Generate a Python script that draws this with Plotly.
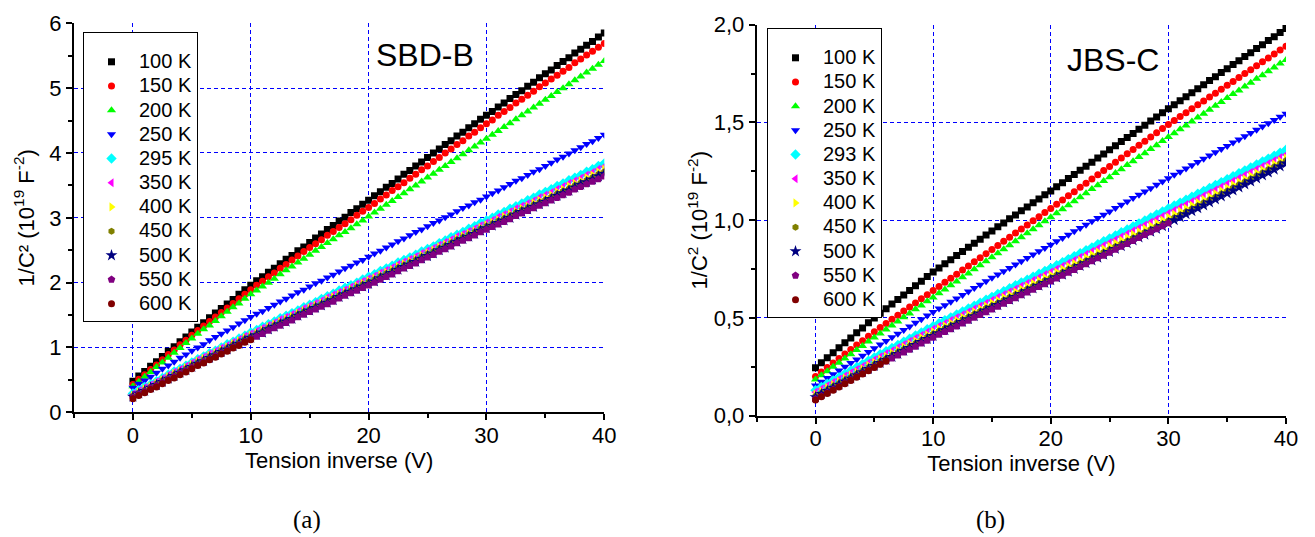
import plotly.graph_objects as go

# ---------------- data ----------------
V = [0, 0.5, 1, 1.5, 2, 2.5, 3, 3.5, 4, 4.5, 5, 5.5, 6, 6.5, 7, 7.5, 8, 8.5, 9, 9.5,
     10, 10.5, 11, 11.5, 12, 12.5, 13, 13.5, 14, 14.5, 15, 15.5, 16, 16.5, 17, 17.5, 18, 18.5, 19, 19.5,
     20, 20.5, 21, 21.5, 22, 22.5, 23, 23.5, 24, 24.5, 25, 25.5, 26, 26.5, 27, 27.5, 28, 28.5, 29, 29.5,
     30, 30.5, 31, 31.5, 32, 32.5, 33, 33.5, 34, 34.5, 35, 35.5, 36, 36.5, 37, 37.5, 38, 38.5, 39, 39.5, 40]

labels_a = ["100 K", "150 K", "200 K", "250 K", "295 K", "350 K", "400 K", "450 K", "500 K", "550 K", "600 K"]
labels_b = ["100 K", "150 K", "200 K", "250 K", "293 K", "350 K", "400 K", "450 K", "500 K", "550 K", "600 K"]

# (a) SBD-B
a_100 = [0.48, 0.56, 0.63, 0.71, 0.78, 0.86, 0.94, 1.01, 1.09, 1.16,
         1.24, 1.31, 1.38, 1.46, 1.53, 1.60, 1.67, 1.74, 1.82, 1.89,
         1.96, 2.03, 2.09, 2.16, 2.22, 2.29, 2.36, 2.42, 2.49, 2.55,
         2.62, 2.69, 2.75, 2.82, 2.88, 2.95, 3.01, 3.08, 3.14, 3.21,
         3.27, 3.34, 3.40, 3.47, 3.53, 3.60, 3.67, 3.73, 3.80, 3.86,
         3.93, 4.00, 4.06, 4.13, 4.19, 4.26, 4.32, 4.39, 4.45, 4.52,
         4.58, 4.64, 4.71, 4.77, 4.84, 4.90, 4.96, 5.03, 5.09, 5.16,
         5.22, 5.28, 5.35, 5.41, 5.47, 5.54, 5.60, 5.66, 5.72, 5.79, 5.85]
a_150 = [0.43, 0.51, 0.58, 0.66, 0.73, 0.81, 0.89, 0.96, 1.04, 1.11,
         1.19, 1.26, 1.33, 1.40, 1.47, 1.54, 1.61, 1.68, 1.75, 1.82,
         1.89, 1.96, 2.02, 2.09, 2.15, 2.22, 2.28, 2.35, 2.41, 2.48,
         2.54, 2.60, 2.66, 2.73, 2.79, 2.85, 2.91, 2.97, 3.04, 3.10,
         3.16, 3.22, 3.29, 3.35, 3.42, 3.48, 3.54, 3.61, 3.67, 3.74,
         3.80, 3.87, 3.93, 4.00, 4.06, 4.13, 4.19, 4.26, 4.32, 4.39,
         4.45, 4.51, 4.58, 4.64, 4.70, 4.77, 4.83, 4.89, 4.95, 5.02,
         5.08, 5.14, 5.20, 5.26, 5.32, 5.39, 5.45, 5.51, 5.57, 5.63, 5.69]
a_200 = [0.40, 0.47, 0.55, 0.62, 0.70, 0.77, 0.84, 0.92, 0.99, 1.07,
         1.14, 1.21, 1.28, 1.34, 1.41, 1.48, 1.55, 1.62, 1.68, 1.75,
         1.82, 1.88, 1.94, 2.00, 2.06, 2.13, 2.19, 2.25, 2.31, 2.37,
         2.43, 2.49, 2.55, 2.61, 2.67, 2.73, 2.78, 2.84, 2.90, 2.96,
         3.02, 3.08, 3.14, 3.20, 3.26, 3.32, 3.38, 3.44, 3.50, 3.56,
         3.62, 3.68, 3.74, 3.80, 3.86, 3.92, 3.98, 4.04, 4.10, 4.16,
         4.22, 4.28, 4.34, 4.40, 4.46, 4.52, 4.58, 4.64, 4.70, 4.76,
         4.82, 4.88, 4.94, 5.00, 5.06, 5.12, 5.18, 5.24, 5.30, 5.36, 5.42]
a_250 = [0.38, 0.44, 0.49, 0.55, 0.61, 0.67, 0.72, 0.78, 0.84, 0.89,
         0.95, 1.00, 1.05, 1.11, 1.16, 1.21, 1.26, 1.31, 1.37, 1.42,
         1.47, 1.52, 1.56, 1.61, 1.66, 1.71, 1.75, 1.80, 1.85, 1.89,
         1.94, 1.99, 2.03, 2.08, 2.12, 2.17, 2.22, 2.26, 2.31, 2.35,
         2.40, 2.45, 2.49, 2.54, 2.59, 2.64, 2.68, 2.73, 2.78, 2.82,
         2.87, 2.92, 2.96, 3.01, 3.05, 3.10, 3.15, 3.19, 3.24, 3.28,
         3.33, 3.38, 3.42, 3.47, 3.52, 3.57, 3.61, 3.66, 3.71, 3.75,
         3.80, 3.85, 3.90, 3.94, 3.99, 4.04, 4.09, 4.14, 4.18, 4.23, 4.28]
a_295 = [0.29, 0.34, 0.39, 0.43, 0.48, 0.53, 0.58, 0.63, 0.67, 0.72,
         0.77, 0.82, 0.86, 0.91, 0.95, 1.00, 1.05, 1.09, 1.14, 1.18,
         1.23, 1.27, 1.32, 1.36, 1.40, 1.45, 1.49, 1.53, 1.57, 1.62,
         1.66, 1.70, 1.75, 1.79, 1.83, 1.88, 1.92, 1.96, 2.00, 2.05,
         2.09, 2.13, 2.18, 2.22, 2.26, 2.31, 2.35, 2.39, 2.43, 2.48,
         2.52, 2.56, 2.61, 2.65, 2.70, 2.74, 2.78, 2.83, 2.87, 2.92,
         2.96, 3.00, 3.05, 3.09, 3.14, 3.18, 3.22, 3.27, 3.31, 3.36,
         3.40, 3.44, 3.49, 3.53, 3.58, 3.62, 3.66, 3.71, 3.75, 3.80, 3.84]
a_350 = [0.28, 0.33, 0.38, 0.42, 0.47, 0.52, 0.57, 0.62, 0.66, 0.71,
         0.76, 0.81, 0.85, 0.90, 0.94, 0.99, 1.03, 1.08, 1.12, 1.17,
         1.21, 1.25, 1.30, 1.34, 1.38, 1.43, 1.47, 1.51, 1.55, 1.60,
         1.64, 1.68, 1.72, 1.77, 1.81, 1.85, 1.89, 1.93, 1.98, 2.02,
         2.06, 2.10, 2.15, 2.19, 2.23, 2.28, 2.32, 2.36, 2.40, 2.45,
         2.49, 2.53, 2.58, 2.62, 2.66, 2.71, 2.75, 2.79, 2.83, 2.88,
         2.92, 2.96, 3.01, 3.05, 3.09, 3.14, 3.18, 3.22, 3.26, 3.31,
         3.35, 3.39, 3.44, 3.48, 3.53, 3.57, 3.61, 3.66, 3.70, 3.75, 3.79]
a_400 = [0.26, 0.31, 0.36, 0.40, 0.45, 0.50, 0.55, 0.60, 0.64, 0.69,
         0.74, 0.79, 0.83, 0.88, 0.92, 0.97, 1.01, 1.06, 1.10, 1.15,
         1.19, 1.23, 1.27, 1.32, 1.36, 1.40, 1.44, 1.48, 1.53, 1.57,
         1.61, 1.65, 1.69, 1.74, 1.78, 1.82, 1.86, 1.90, 1.95, 1.99,
         2.03, 2.07, 2.12, 2.16, 2.20, 2.25, 2.29, 2.33, 2.37, 2.42,
         2.46, 2.50, 2.55, 2.59, 2.63, 2.68, 2.72, 2.76, 2.80, 2.85,
         2.89, 2.93, 2.97, 3.02, 3.06, 3.10, 3.14, 3.18, 3.23, 3.27,
         3.31, 3.35, 3.40, 3.44, 3.49, 3.53, 3.57, 3.62, 3.66, 3.71, 3.75]
a_450 = [0.25, 0.30, 0.34, 0.39, 0.44, 0.49, 0.53, 0.58, 0.63, 0.67,
         0.72, 0.77, 0.81, 0.86, 0.90, 0.95, 0.99, 1.04, 1.08, 1.13,
         1.17, 1.21, 1.25, 1.30, 1.34, 1.38, 1.42, 1.46, 1.51, 1.55,
         1.59, 1.63, 1.67, 1.72, 1.76, 1.80, 1.84, 1.88, 1.93, 1.97,
         2.01, 2.05, 2.10, 2.14, 2.18, 2.23, 2.27, 2.31, 2.35, 2.40,
         2.44, 2.48, 2.53, 2.57, 2.61, 2.66, 2.70, 2.74, 2.78, 2.83,
         2.87, 2.91, 2.95, 2.99, 3.03, 3.08, 3.12, 3.16, 3.20, 3.24,
         3.28, 3.32, 3.37, 3.41, 3.45, 3.50, 3.54, 3.58, 3.62, 3.67, 3.71]
a_500 = [0.24, 0.29, 0.33, 0.38, 0.42, 0.47, 0.52, 0.56, 0.61, 0.65,
         0.70, 0.75, 0.79, 0.84, 0.88, 0.93, 0.97, 1.02, 1.06, 1.11,
         1.15, 1.19, 1.23, 1.28, 1.32, 1.36, 1.40, 1.44, 1.49, 1.53,
         1.57, 1.61, 1.65, 1.69, 1.73, 1.78, 1.82, 1.86, 1.90, 1.94,
         1.98, 2.02, 2.07, 2.11, 2.15, 2.20, 2.24, 2.28, 2.32, 2.37,
         2.41, 2.45, 2.50, 2.54, 2.58, 2.63, 2.67, 2.71, 2.75, 2.80,
         2.84, 2.88, 2.92, 2.96, 3.00, 3.05, 3.09, 3.13, 3.17, 3.21,
         3.25, 3.29, 3.34, 3.38, 3.42, 3.47, 3.51, 3.55, 3.59, 3.64, 3.68]
a_550 = [0.23, 0.28, 0.32, 0.37, 0.41, 0.46, 0.51, 0.55, 0.60, 0.64,
         0.69, 0.73, 0.78, 0.82, 0.87, 0.91, 0.95, 1.00, 1.04, 1.09,
         1.13, 1.17, 1.21, 1.26, 1.30, 1.34, 1.38, 1.42, 1.47, 1.51,
         1.55, 1.59, 1.63, 1.67, 1.71, 1.76, 1.80, 1.84, 1.88, 1.92,
         1.96, 2.00, 2.05, 2.09, 2.13, 2.18, 2.22, 2.26, 2.30, 2.35,
         2.39, 2.43, 2.48, 2.52, 2.56, 2.61, 2.65, 2.69, 2.73, 2.78,
         2.82, 2.86, 2.90, 2.94, 2.98, 3.03, 3.07, 3.11, 3.15, 3.19,
         3.23, 3.27, 3.31, 3.35, 3.39, 3.44, 3.48, 3.52, 3.56, 3.60, 3.64]
a_600 = [0.21, 0.26, 0.30, 0.35, 0.39, 0.44, 0.49, 0.53, 0.58, 0.62,
         0.67, 0.72, 0.76, 0.81, 0.85, 0.90, 0.94, 0.99, 1.03, 1.08, 1.12]

# (b) JBS-C
b_100 = [0.245, 0.271, 0.296, 0.322, 0.347, 0.373, 0.398, 0.424, 0.449, 0.475,
         0.500, 0.524, 0.547, 0.571, 0.594, 0.618, 0.641, 0.665, 0.688, 0.712,
         0.735, 0.756, 0.777, 0.798, 0.819, 0.840, 0.861, 0.882, 0.903, 0.924,
         0.945, 0.966, 0.986, 1.007, 1.027, 1.048, 1.068, 1.089, 1.109, 1.130,
         1.150, 1.171, 1.192, 1.213, 1.234, 1.255, 1.276, 1.297, 1.318, 1.339,
         1.360, 1.381, 1.402, 1.423, 1.444, 1.465, 1.486, 1.507, 1.528, 1.549,
         1.570, 1.591, 1.611, 1.632, 1.652, 1.673, 1.693, 1.714, 1.734, 1.755,
         1.775, 1.796, 1.816, 1.837, 1.857, 1.878, 1.898, 1.919, 1.939, 1.960, 1.980]
b_150 = [0.200, 0.223, 0.246, 0.269, 0.292, 0.315, 0.338, 0.361, 0.384, 0.407,
         0.430, 0.451, 0.472, 0.493, 0.514, 0.535, 0.556, 0.577, 0.598, 0.619,
         0.640, 0.661, 0.682, 0.703, 0.724, 0.745, 0.766, 0.787, 0.808, 0.829,
         0.850, 0.871, 0.892, 0.913, 0.934, 0.955, 0.976, 0.997, 1.018, 1.039,
         1.060, 1.082, 1.103, 1.125, 1.146, 1.168, 1.189, 1.211, 1.232, 1.254,
         1.275, 1.297, 1.318, 1.340, 1.361, 1.383, 1.404, 1.426, 1.447, 1.469,
         1.490, 1.510, 1.530, 1.550, 1.570, 1.590, 1.610, 1.630, 1.650, 1.670,
         1.690, 1.710, 1.730, 1.750, 1.770, 1.790, 1.810, 1.830, 1.850, 1.870, 1.890]
b_200 = [0.185, 0.207, 0.228, 0.250, 0.271, 0.293, 0.314, 0.336, 0.357, 0.379,
         0.400, 0.421, 0.441, 0.462, 0.482, 0.503, 0.523, 0.544, 0.564, 0.585,
         0.605, 0.626, 0.646, 0.667, 0.687, 0.708, 0.728, 0.749, 0.769, 0.790,
         0.810, 0.831, 0.851, 0.872, 0.892, 0.913, 0.933, 0.954, 0.974, 0.995,
         1.015, 1.036, 1.056, 1.077, 1.097, 1.118, 1.138, 1.159, 1.179, 1.200,
         1.220, 1.241, 1.261, 1.282, 1.302, 1.323, 1.343, 1.364, 1.384, 1.405,
         1.425, 1.445, 1.465, 1.485, 1.505, 1.525, 1.545, 1.565, 1.585, 1.605,
         1.625, 1.645, 1.664, 1.684, 1.703, 1.723, 1.742, 1.762, 1.781, 1.801, 1.820]
b_250 = [0.155, 0.174, 0.193, 0.212, 0.231, 0.250, 0.269, 0.288, 0.307, 0.326,
         0.345, 0.364, 0.382, 0.401, 0.419, 0.438, 0.456, 0.475, 0.493, 0.512,
         0.530, 0.548, 0.565, 0.583, 0.600, 0.618, 0.635, 0.653, 0.670, 0.688,
         0.705, 0.722, 0.739, 0.756, 0.773, 0.790, 0.807, 0.824, 0.841, 0.858,
         0.875, 0.892, 0.909, 0.926, 0.943, 0.960, 0.977, 0.994, 1.011, 1.028,
         1.045, 1.062, 1.079, 1.096, 1.113, 1.130, 1.147, 1.164, 1.181, 1.198,
         1.215, 1.232, 1.248, 1.265, 1.281, 1.298, 1.314, 1.331, 1.347, 1.364,
         1.380, 1.397, 1.413, 1.430, 1.446, 1.463, 1.479, 1.496, 1.512, 1.529, 1.545]
b_293 = [0.130, 0.147, 0.164, 0.180, 0.197, 0.214, 0.231, 0.248, 0.264, 0.281,
         0.298, 0.314, 0.330, 0.346, 0.362, 0.378, 0.394, 0.410, 0.426, 0.442,
         0.458, 0.473, 0.488, 0.503, 0.518, 0.533, 0.548, 0.563, 0.578, 0.593,
         0.608, 0.623, 0.637, 0.652, 0.667, 0.682, 0.696, 0.711, 0.726, 0.740,
         0.755, 0.770, 0.785, 0.801, 0.816, 0.831, 0.846, 0.861, 0.877, 0.892,
         0.907, 0.922, 0.938, 0.953, 0.968, 0.984, 0.999, 1.014, 1.029, 1.045,
         1.060, 1.075, 1.090, 1.105, 1.120, 1.135, 1.150, 1.165, 1.180, 1.195,
         1.210, 1.225, 1.240, 1.255, 1.270, 1.285, 1.300, 1.315, 1.330, 1.345, 1.360]
b_350 = [0.120, 0.137, 0.153, 0.170, 0.186, 0.203, 0.219, 0.236, 0.252, 0.269,
         0.285, 0.301, 0.317, 0.332, 0.348, 0.364, 0.380, 0.396, 0.411, 0.427,
         0.443, 0.458, 0.472, 0.487, 0.502, 0.517, 0.531, 0.546, 0.561, 0.575,
         0.590, 0.605, 0.619, 0.634, 0.648, 0.663, 0.677, 0.692, 0.706, 0.721,
         0.735, 0.750, 0.765, 0.780, 0.795, 0.810, 0.825, 0.840, 0.855, 0.870,
         0.885, 0.900, 0.915, 0.930, 0.945, 0.960, 0.975, 0.990, 1.005, 1.020,
         1.035, 1.050, 1.065, 1.080, 1.095, 1.110, 1.125, 1.140, 1.155, 1.170,
         1.185, 1.200, 1.215, 1.230, 1.245, 1.260, 1.275, 1.290, 1.305, 1.320, 1.335]
b_400 = [0.110, 0.126, 0.143, 0.159, 0.175, 0.192, 0.208, 0.224, 0.240, 0.257,
         0.273, 0.289, 0.304, 0.320, 0.336, 0.352, 0.367, 0.383, 0.399, 0.414,
         0.430, 0.445, 0.459, 0.474, 0.488, 0.503, 0.518, 0.532, 0.547, 0.561,
         0.576, 0.590, 0.605, 0.619, 0.634, 0.648, 0.662, 0.677, 0.691, 0.706,
         0.720, 0.735, 0.750, 0.764, 0.779, 0.794, 0.809, 0.824, 0.838, 0.853,
         0.868, 0.883, 0.898, 0.912, 0.927, 0.942, 0.957, 0.972, 0.986, 1.001,
         1.016, 1.031, 1.046, 1.061, 1.076, 1.091, 1.106, 1.121, 1.136, 1.151,
         1.166, 1.181, 1.196, 1.212, 1.227, 1.242, 1.257, 1.272, 1.288, 1.303, 1.318]
b_450 = [0.100, 0.116, 0.132, 0.149, 0.165, 0.181, 0.197, 0.213, 0.230, 0.246,
         0.262, 0.278, 0.293, 0.309, 0.324, 0.340, 0.356, 0.371, 0.387, 0.402,
         0.418, 0.433, 0.447, 0.462, 0.476, 0.491, 0.505, 0.520, 0.534, 0.549,
         0.563, 0.577, 0.591, 0.606, 0.620, 0.634, 0.648, 0.662, 0.677, 0.691,
         0.705, 0.720, 0.734, 0.749, 0.763, 0.778, 0.792, 0.807, 0.821, 0.836,
         0.850, 0.865, 0.879, 0.894, 0.909, 0.924, 0.938, 0.953, 0.968, 0.982,
         0.997, 1.012, 1.028, 1.043, 1.058, 1.074, 1.089, 1.104, 1.119, 1.135,
         1.150, 1.166, 1.181, 1.197, 1.212, 1.228, 1.243, 1.259, 1.274, 1.290, 1.305]
b_500 = [0.095, 0.111, 0.127, 0.143, 0.159, 0.175, 0.191, 0.207, 0.223, 0.239,
         0.255, 0.270, 0.286, 0.301, 0.316, 0.332, 0.347, 0.362, 0.377, 0.393,
         0.408, 0.422, 0.437, 0.451, 0.466, 0.480, 0.494, 0.509, 0.523, 0.538,
         0.552, 0.566, 0.580, 0.594, 0.608, 0.623, 0.637, 0.651, 0.665, 0.679,
         0.693, 0.708, 0.722, 0.737, 0.751, 0.766, 0.780, 0.795, 0.809, 0.824,
         0.838, 0.853, 0.867, 0.882, 0.897, 0.912, 0.926, 0.941, 0.956, 0.970,
         0.985, 1.000, 1.015, 1.031, 1.046, 1.061, 1.076, 1.091, 1.107, 1.122,
         1.137, 1.152, 1.168, 1.183, 1.198, 1.214, 1.229, 1.244, 1.259, 1.275, 1.290]
b_550 = [0.085, 0.101, 0.118, 0.134, 0.150, 0.167, 0.183, 0.199, 0.215, 0.232,
         0.248, 0.263, 0.278, 0.294, 0.309, 0.324, 0.339, 0.354, 0.370, 0.385,
         0.400, 0.415, 0.429, 0.444, 0.458, 0.473, 0.487, 0.502, 0.516, 0.531,
         0.545, 0.559, 0.574, 0.588, 0.602, 0.617, 0.631, 0.645, 0.659, 0.674,
         0.688, 0.703, 0.717, 0.732, 0.747, 0.762, 0.776, 0.791, 0.806, 0.820,
         0.835, 0.850, 0.865, 0.880, 0.895, 0.910, 0.925, 0.940, 0.955, 0.970, 0.985]
b_600 = [0.080, 0.097, 0.113, 0.130, 0.147, 0.163, 0.180, 0.197, 0.213, 0.230,
         0.247, 0.263, 0.280]

series_a = [a_100, a_150, a_200, a_250, a_295, a_350, a_400, a_450, a_500, a_550, a_600]
series_b = [b_100, b_150, b_200, b_250, b_293, b_350, b_400, b_450, b_500, b_550, b_600]

# ---------------- styles ----------------
colors = ["#000000", "#FF0000", "#00FF00", "#0000FF", "#00FFFF", "#FF00FF",
          "#FFFF00", "#808000", "#000080", "#800080", "#800000"]
symbols = ["square", "circle", "triangle-up", "triangle-down", "diamond", "triangle-left",
           "triangle-right", "hexagon", "star", "pentagon", "circle"]
sizes = [7, 7, 8, 8, 8, 8, 8, 7, 9, 8, 7]

W, H = 1315, 537
FONT = "Arial, Liberation Sans, sans-serif"
LEG_FONT = 16.3   # controls row spacing
LEG_TEXT = 20     # actual text size


def px_x(p):
    return p / W


def px_y(p):
    return 1 - p / H


def leg_name(s):
    return '<span style="font-size:%dpx">%s</span>' % (LEG_TEXT, s)


fig = go.Figure()

for i in range(11):
    ya = series_a[i]
    fig.add_trace(go.Scatter(
        x=V[:len(ya)], y=ya, mode="markers", name=leg_name(labels_a[i]),
        marker=dict(color=colors[i], symbol=symbols[i], size=sizes[i], line=dict(width=0)),
        xaxis="x", yaxis="y", legend="legend"))
for i in range(11):
    yb = series_b[i]
    fig.add_trace(go.Scatter(
        x=V[:len(yb)], y=yb, mode="markers", name=leg_name(labels_b[i]),
        marker=dict(color=colors[i], symbol=symbols[i], size=sizes[i], line=dict(width=0)),
        xaxis="x2", yaxis="y2", legend="legend2"))

grid = dict(showgrid=True, gridcolor="#0000FF", gridwidth=1, griddash="4px,3px")
tickfont = dict(family=FONT, size=22, color="black")
titlefont = dict(family=FONT, size=22, color="black")
axline = dict(showline=True, linecolor="black", linewidth=2, zeroline=False, automargin=False)


def xaxis(domain, anchor):
    return dict(domain=domain, anchor=anchor, range=[-5, 40], tick0=0, dtick=10,
                ticks="outside", ticklen=6, tickwidth=1.5, tickcolor="black", ticklabelstandoff=-4,
                minor=dict(dtick=5, ticklen=4, tickwidth=1.5, tickcolor="black", ticks="outside", showgrid=False),
                tickfont=tickfont, title=dict(text="Tension inverse (V)", font=titlefont, standoff=2),
                **grid, **axline)


def xaxis_top(over, anchor, domain):
    return dict(domain=domain, overlaying=over, anchor=anchor, side="top", range=[-5, 40], tick0=0, dtick=10,
                ticks="inside", ticklen=6, tickwidth=1.5, tickcolor="black",
                minor=dict(dtick=5, ticklen=4, tickwidth=1.5, tickcolor="black", ticks="inside", showgrid=False),
                showticklabels=False, showgrid=False, **axline)


dom_xa = [px_x(74), px_x(604.3)]
dom_ya = [px_y(412.3), px_y(23.3)]
dom_xb = [px_x(756.7), px_x(1286)]
dom_yb = [px_y(415.7), px_y(24.7)]

legend_common = dict(xanchor="left", yanchor="top",
                     bgcolor="white", bordercolor="black", borderwidth=1,
                     font=dict(family=FONT, size=LEG_FONT), itemwidth=45, tracegroupgap=0,
                     title=dict(text=" ", font=dict(family=FONT, size=9)))

fig.update_layout(
    template="none",
    width=W, height=H, margin=dict(l=0, r=0, t=0, b=0, autoexpand=False),
    paper_bgcolor="white", plot_bgcolor="white",
    separators=", ",
    font=dict(family=FONT, color="black"),
    xaxis=xaxis(dom_xa, "y"),
    xaxis2=xaxis(dom_xb, "y2"),
    xaxis3=xaxis_top("x", "y", dom_xa),
    xaxis4=xaxis_top("x2", "y2", dom_xb),
    yaxis=dict(domain=dom_ya, anchor="x", range=[0, 6], tick0=0, dtick=1,
               ticks="outside", ticklen=6, tickwidth=1.5, tickcolor="black",
               minor=dict(dtick=0.5, ticklen=4, tickwidth=1.5, tickcolor="black", ticks="outside", showgrid=False),
               tickfont=tickfont,
               title=dict(text="1/C² (10<sup>19</sup> F<sup>-2</sup>)", font=titlefont, standoff=9),
               **grid, **axline),
    yaxis2=dict(domain=dom_yb, anchor="x2", range=[0, 2], tick0=0, dtick=0.5, tickformat=".1f",
                ticks="outside", ticklen=6, tickwidth=1.5, tickcolor="black",
                minor=dict(dtick=0.25, ticklen=4, tickwidth=1.5, tickcolor="black", ticks="outside", showgrid=False),
                tickfont=tickfont,
                title=dict(text="1/C<sup>2</sup> (10<sup>19</sup> F<sup>-2</sup>)", font=titlefont, standoff=0),
                **grid, **axline),
    yaxis3=dict(domain=dom_ya, overlaying="y", anchor="x", side="right", range=[0, 6], tick0=0, dtick=1,
                ticks="inside", ticklen=6, tickwidth=1.5, tickcolor="black",
                minor=dict(dtick=0.5, ticklen=4, tickwidth=1.5, tickcolor="black", ticks="inside", showgrid=False),
                showticklabels=False, showgrid=False, **axline),
    yaxis4=dict(domain=dom_yb, overlaying="y2", anchor="x2", side="right", range=[0, 2], tick0=0, dtick=0.5,
                ticks="inside", ticklen=6, tickwidth=1.5, tickcolor="black",
                minor=dict(dtick=0.25, ticklen=4, tickwidth=1.5, tickcolor="black", ticks="inside", showgrid=False),
                showticklabels=False, showgrid=False, **axline),
    legend=dict(x=px_x(83), y=px_y(32), **legend_common),
    legend2=dict(x=px_x(767), y=px_y(28), **legend_common),
    annotations=[
        dict(text="SBD-B", x=px_x(425), y=px_y(55), xref="paper", yref="paper",
             showarrow=False, font=dict(family=FONT, size=32), xanchor="center", yanchor="middle"),
        dict(text="JBS-C", x=px_x(1113), y=px_y(60), xref="paper", yref="paper",
             showarrow=False, font=dict(family=FONT, size=32), xanchor="center", yanchor="middle"),
        dict(text="(a)", x=px_x(307), y=px_y(520), xref="paper", yref="paper",
             showarrow=False, font=dict(family="Liberation Serif, Times New Roman, serif", size=25),
             xanchor="center", yanchor="middle"),
        dict(text="(b)", x=px_x(990), y=px_y(520), xref="paper", yref="paper",
             showarrow=False, font=dict(family="Liberation Serif, Times New Roman, serif", size=25),
             xanchor="center", yanchor="middle"),
    ],
)

fig.write_html("out.html", config={"displayModeBar": False},
               post_script="document.body.style.margin='0';")
